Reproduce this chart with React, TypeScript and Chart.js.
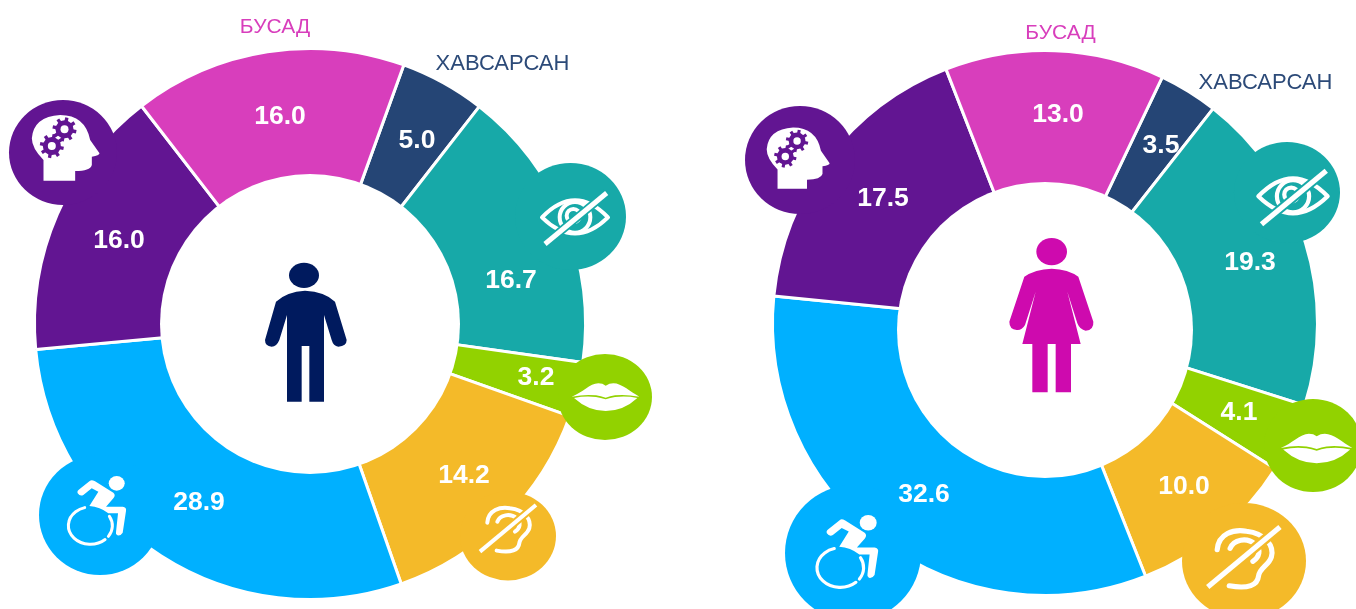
import React, { useEffect, useRef } from "react";
import { Chart, registerables } from "chart.js";

Chart.register(...registerables);

const categories = ["ХАВСАРСАН", "Хараа", "Хэл яриа", "Сонсгол", "Хөдөлгөөн", "Сэтгэцийн", "БУСАД"];
const maleValues = [5.0, 16.7, 3.2, 14.2, 28.9, 16.0, 16.0];
const femaleValues = [3.5, 19.3, 4.1, 10.0, 32.6, 17.5, 13.0];
const sliceColors = ["#254575", "#17A9A8", "#92D200", "#F4BA29", "#00B0FF", "#621592", "#D83EBC"];

const W = 1356;
const H = 609;
const FONT = '"Liberation Sans", Arial, sans-serif';

type IconName = "eye" | "mouth" | "ear" | "wheel" | "brain" | null;
type Layout = {
  cx: number; cy: number; r: number; rotation: number;
  hole: [number, number, number];
  labels: [number, number][];
  names: [string, number, number, string, number][];
  badges: { i: number; x: number; y: number; rx: number; ry: number; icon: IconName; ix: number; iy: number; s: number }[];
  person: "man" | "woman";
};

const maleLayout: Layout = {
  cx: 310, cy: 324, r: 274, rotation: 19.9,
  hole: [310, 324, 150],
  labels: [[417, 141], [511, 281], [536, 378], [464, 476], [199, 503], [119, 241], [280, 117]],
  names: [["БУСАД", 275, 27, "#D83EBC", 21], ["ХАВСАРСАН", 502.5, 64, "#2C4A78", 22]],
  badges: [
    { i: 5, x: 63, y: 152.5, rx: 54, ry: 52.5, icon: "brain", ix: 65.5, iy: 147.7, s: 1 },
    { i: 1, x: 570.5, y: 216.5, rx: 55.5, ry: 53.5, icon: "eye", ix: 575, iy: 218, s: 1 },
    { i: 2, x: 605, y: 397, rx: 47, ry: 43, icon: "mouth", ix: 605.7, iy: 396.7, s: 1 },
    { i: 3, x: 508, y: 536, rx: 48, ry: 44.5, icon: "ear", ix: 507.3, iy: 528.3, s: 1 },
    { i: 4, x: 100, y: 515, rx: 61, ry: 60, icon: "wheel", ix: 96.7, iy: 510, s: 1 },
  ],
  person: "man",
};

const femaleLayout: Layout = {
  cx: 1045, cy: 323, r: 271, rotation: 25.5,
  hole: [1045, 330, 148],
  labels: [[1161, 146], [1250, 263], [1239, 413], [1184, 487], [924, 495], [883, 199], [1058, 115]],
  names: [["БУСАД", 1060.5, 33, "#D83EBC", 21], ["ХАВСАРСАН", 1265.5, 83, "#2C4A78", 22]],
  badges: [
    { i: 5, x: 800, y: 160, rx: 55, ry: 54, icon: "brain", ix: 798, iy: 158, s: 0.93 },
    { i: 1, x: 1287, y: 192.5, rx: 53, ry: 50.5, icon: "eye", ix: 1293, iy: 197, s: 1.05 },
    { i: 2, x: 1313, y: 445.5, rx: 49, ry: 46.5, icon: "mouth", ix: 1316.7, iy: 448, s: 1.06 },
    { i: 3, x: 1244, y: 561, rx: 62, ry: 58, icon: "ear", ix: 1243, iy: 557, s: 1.29 },
    { i: 4, x: 853, y: 553, rx: 68, ry: 68, icon: "wheel", ix: 847, iy: 551, s: 1.06 },
  ],
  person: "woman",
};

function place(ctx: CanvasRenderingContext2D, x: number, y: number, s: number, ox: number, oy: number, draw: () => void) {
  ctx.save();
  ctx.translate(x, y);
  ctx.scale(s / 3, s / 3);
  ctx.translate(-ox, -oy);
  draw();
  ctx.restore();
}

function gear(ctx: CanvasRenderingContext2D, x: number, y: number, color: string) {
  ctx.fillStyle = color;
  ctx.beginPath();
  ctx.arc(x, y, 27, 0, Math.PI * 2);
  ctx.fill();
  ctx.strokeStyle = color;
  ctx.lineWidth = 10;
  for (let k = 0; k < 8; k++) {
    const a = (k * Math.PI) / 4 + 0.2;
    ctx.beginPath();
    ctx.moveTo(x, y);
    ctx.lineTo(x + Math.cos(a) * 36, y + Math.sin(a) * 36);
    ctx.stroke();
  }
  ctx.fillStyle = "#fff";
  ctx.beginPath();
  ctx.arc(x, y, 12, 0, Math.PI * 2);
  ctx.fill();
}

function drawIcon(ctx: CanvasRenderingContext2D, name: IconName, color: string) {
  ctx.fillStyle = "#fff";
  ctx.strokeStyle = "#fff";
  ctx.lineCap = "butt";
  ctx.lineJoin = "round";
  if (name === "brain") {
    ctx.fill(new Path2D("M130 272L130 210Q95 175 95 145Q100 80 180 75Q255 75 270 150L298 190Q298 197 275 200L275 225Q270 243 225 243L225 272Z"));
    gear(ctx, 193, 118, color);
    gear(ctx, 155, 168, color);
  } else if (name === "eye") {
    ctx.lineWidth = 12;
    ctx.stroke(new Path2D("M66 203Q165 100 264 203Q165 300 66 203Z"));
    ctx.beginPath();
    ctx.arc(165, 203, 46, 0, Math.PI * 2);
    ctx.stroke();
    ctx.beginPath();
    ctx.arc(160, 198, 20, 0, Math.PI * 2);
    ctx.stroke();
    ctx.strokeStyle = color;
    ctx.lineWidth = 26;
    ctx.beginPath();
    ctx.moveTo(75, 283);
    ctx.lineTo(260, 130);
    ctx.stroke();
    ctx.strokeStyle = "#fff";
    ctx.lineWidth = 15;
    ctx.beginPath();
    ctx.moveTo(75, 283);
    ctx.lineTo(260, 130);
    ctx.stroke();
  } else if (name === "mouth") {
    ctx.fill(new Path2D("M365 170C395 160 420 130 445 130Q458 130 467 137Q478 130 490 130C515 130 540 155 568 170Q525 162 495 166Q480 168 467 173Q452 168 438 166Q405 162 365 170Z"));
    ctx.fill(new Path2D("M372 174Q405 167 438 171Q452 173 467 178Q480 173 495 171Q530 167 562 174Q520 213 467 213Q415 213 372 174Z"));
  } else if (name === "ear") {
    ctx.lineWidth = 12;
    ctx.lineCap = "round";
    ctx.stroke(new Path2D("M112 548C115 510 150 500 180 505C225 510 245 540 238 565C232 585 210 590 208 610C206 630 185 640 140 632"));
    ctx.stroke(new Path2D("M142 545C150 525 180 518 200 535C215 548 210 565 195 575"));
    ctx.lineCap = "butt";
    ctx.strokeStyle = color;
    ctx.lineWidth = 24;
    ctx.beginPath();
    ctx.moveTo(90, 635);
    ctx.lineTo(258, 495);
    ctx.stroke();
    ctx.strokeStyle = "#fff";
    ctx.lineWidth = 12;
    ctx.beginPath();
    ctx.moveTo(90, 635);
    ctx.lineTo(258, 495);
    ctx.stroke();
  } else if (name === "wheel") {
    ctx.beginPath();
    ctx.ellipse(260, 100, 24, 22, 0, 0, Math.PI * 2);
    ctx.fill();
    ctx.fill(new Path2D("M148 118L180 92Q185 88 195 94L250 128Q258 135 250 145L228 170L278 170Q290 172 288 182L278 248Q272 258 262 256Q256 252 258 245L264 190L235 190Q210 170 178 168L205 125L185 115L160 135Q150 140 143 130Q140 123 148 118Z"));
    ctx.lineWidth = 9;
    ctx.lineCap = "round";
    ctx.beginPath();
    ctx.ellipse(181, 227, 66, 56, 0, (48 * Math.PI) / 180, (255 * Math.PI) / 180);
    ctx.stroke();
    ctx.beginPath();
    ctx.ellipse(181, 227, 66, 56, 0, (-30 * Math.PI) / 180, (35 * Math.PI) / 180);
    ctx.stroke();
  }
}

const iconOrigin: Record<string, [number, number]> = {
  brain: [196, 173],
  eye: [165, 205],
  mouth: [467, 170],
  ear: [172, 565],
  wheel: [200, 180],
};

function drawPerson(ctx: CanvasRenderingContext2D, kind: "man" | "woman") {
  if (kind === "man") {
    place(ctx, 250, 250, 1, 0, 0, () => {
      ctx.fillStyle = "#001A5E";
      ctx.beginPath();
      ctx.ellipse(162, 76, 45, 38, 0, 0, Math.PI * 2);
      ctx.fill();
      ctx.fill(new Path2D("M78 155Q110 125 165 122Q225 125 255 155L290 270Q290 288 265 290Q250 288 245 270L222 195L222 455L178 455L178 288L155 288L155 455L111 455L111 195L88 270Q80 290 65 290Q45 288 45 270Z"));
    });
  } else {
    place(ctx, 990, 230, 1, 0, 0, () => {
      ctx.fillStyle = "#CE0AAE";
      ctx.beginPath();
      ctx.ellipse(185, 65, 46, 41, 0, 0, Math.PI * 2);
      ctx.fill();
      ctx.fill(new Path2D("M103 140Q135 118 185 116Q235 118 265 140L310 275Q312 300 287 302Q270 300 262 280L232 185L272 342L243 342L243 487L197 487L197 342L173 342L173 487L127 487L127 342L97 342L137 185L105 285Q95 302 80 300Q58 298 58 275Z"));
    });
  }
}

function makeDecor(layout: Layout, values: number[]) {
  return {
    id: "decor",
    afterDatasetsDraw(chart: Chart) {
      const ctx = chart.ctx;
      ctx.save();
      for (const b of layout.badges) {
        ctx.fillStyle = sliceColors[b.i];
        ctx.beginPath();
        ctx.ellipse(b.x, b.y, b.rx, b.ry, 0, 0, Math.PI * 2);
        ctx.fill();
      }
      ctx.fillStyle = "#fff";
      ctx.beginPath();
      ctx.arc(layout.hole[0], layout.hole[1], layout.hole[2], 0, Math.PI * 2);
      ctx.fill();
      for (const b of layout.badges) {
        if (!b.icon) continue;
        const [ox, oy] = iconOrigin[b.icon];
        place(ctx, b.ix, b.iy, b.s, ox, oy, () => drawIcon(ctx, b.icon, sliceColors[b.i]));
      }
      drawPerson(ctx, layout.person);
      ctx.textAlign = "center";
      ctx.textBaseline = "middle";
      ctx.fillStyle = "#fff";
      ctx.font = `bold 26.5px ${FONT}`;
      values.forEach((v, i) => {
        ctx.fillText(v.toFixed(1), layout.labels[i][0], layout.labels[i][1]);
      });
      for (const [t, x, y, c, size] of layout.names) {
        ctx.font = `${size}px ${FONT}`;
        ctx.fillStyle = c;
        ctx.fillText(t, x, y);
      }
      ctx.restore();
    },
  };
}

function Donut({ layout, values }: { layout: Layout; values: number[] }) {
  const ref = useRef<HTMLCanvasElement>(null);
  useEffect(() => {
    const half = 40;
    const chart = new Chart(ref.current as HTMLCanvasElement, {
      type: "doughnut",
      data: {
        labels: categories,
        datasets: [{ data: values, backgroundColor: sliceColors, borderColor: "#fff", borderWidth: 3, hoverOffset: 0 }],
      },
      options: {
        responsive: false,
        animation: false,
        rotation: layout.rotation,
        radius: layout.r + 1.5,
        cutout: "40%",
        layout: {
          padding: { left: layout.cx - half, right: W - layout.cx - half, top: layout.cy - half, bottom: H - layout.cy - half },
        },
        plugins: { legend: { display: false }, tooltip: { enabled: false } },
      },
      plugins: [makeDecor(layout, values)],
    } as any);
    return () => chart.destroy();
  }, []);
  return <canvas ref={ref} width={W} height={H} style={{ position: "absolute", left: 0, top: 0, width: W, height: H }} />;
}

export default function App() {
  return (
    <div style={{ position: "fixed", left: 0, top: 0, width: W, height: H, overflow: "hidden", background: "#fff" }}>
      <Donut layout={maleLayout} values={maleValues} />
      <Donut layout={femaleLayout} values={femaleValues} />
    </div>
  );
}
